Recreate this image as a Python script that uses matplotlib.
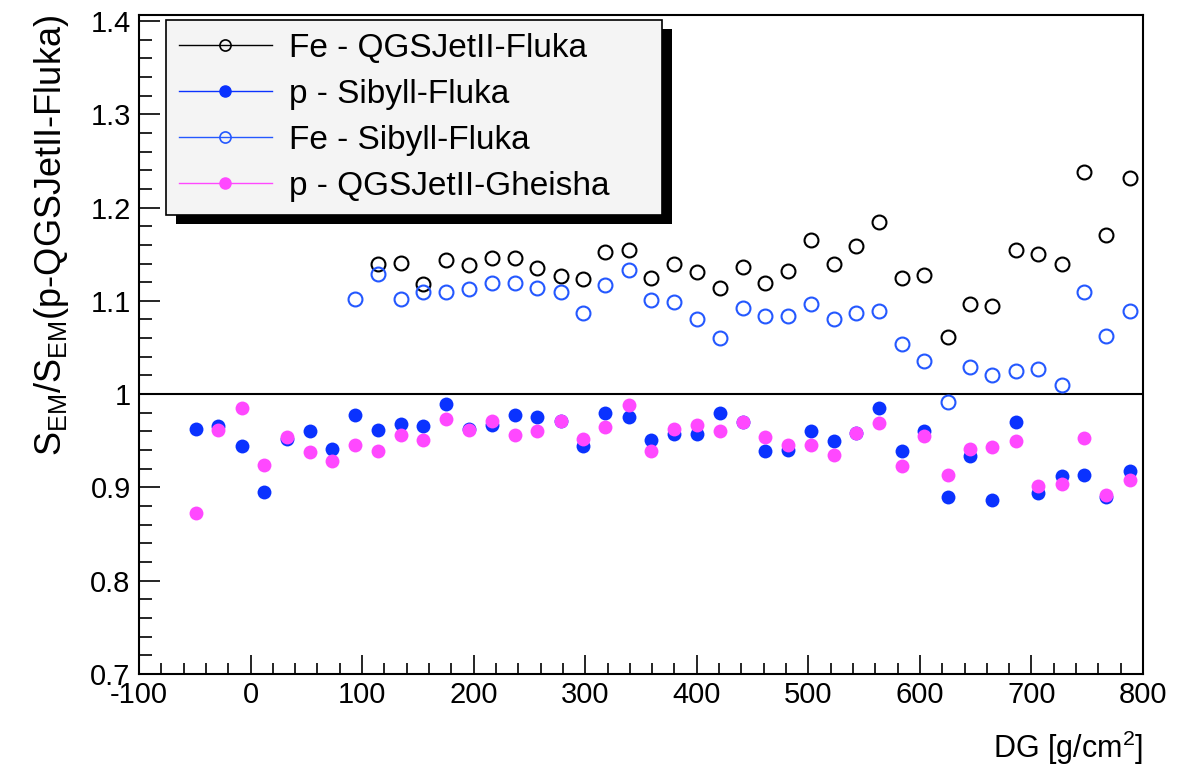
import matplotlib
matplotlib.use("Agg")
import matplotlib.pyplot as plt
from matplotlib.ticker import MultipleLocator, FormatStrFormatter
from matplotlib.lines import Line2D
from matplotlib.patches import Rectangle

plt.rcParams['font.family'] = ['Liberation Sans', 'DejaVu Sans']
plt.rcParams['mathtext.fontset'] = 'custom'
plt.rcParams['mathtext.rm'] = 'Liberation Sans'
plt.rcParams['mathtext.it'] = 'Liberation Sans:italic'
plt.rcParams['axes.unicode_minus'] = False

# DG bin centres [g/cm2]
dg = [-49, -29, -8, 12, 33, 53, 73, 94, 114, 135, 155, 175, 196, 216, 237, 257,
      278, 298, 318, 339, 359, 380, 400, 421, 441, 461, 482, 502, 523, 543, 563,
      584, 604, 625, 645, 665, 686, 706, 727, 747, 767, 788]

# p - Sibyll-Fluka (all bins)
p_sib = [0.963, 0.966, 0.944, 0.895, 0.952, 0.960, 0.941, 0.978, 0.962, 0.968,
         0.966, 0.989, 0.963, 0.967, 0.978, 0.975, 0.971, 0.944, 0.980, 0.975,
         0.951, 0.957, 0.957, 0.980, 0.970, 0.939, 0.940, 0.961, 0.950, 0.958,
         0.985, 0.939, 0.961, 0.890, 0.934, 0.886, 0.970, 0.894, 0.912, 0.913,
         0.890, 0.918]

# p - QGSJetII-Gheisha (all bins)
p_gh = [0.873, 0.962, 0.985, 0.924, 0.954, 0.938, 0.928, 0.945, 0.939, 0.956,
        0.951, 0.973, 0.962, 0.971, 0.956, 0.960, 0.971, 0.952, 0.965, 0.988,
        0.939, 0.963, 0.967, 0.961, 0.970, 0.954, 0.946, 0.945, 0.935, 0.958,
        0.969, 0.923, 0.955, 0.913, 0.941, 0.943, 0.950, 0.901, 0.904, 0.953,
        0.892, 0.908]

# Fe - Sibyll-Fluka (from bin 7)
fe_sib = [1.102, 1.129, 1.102, 1.109, 1.110, 1.113, 1.119, 1.119, 1.114, 1.109,
          1.087, 1.117, 1.133, 1.101, 1.099, 1.081, 1.060, 1.092, 1.084, 1.084,
          1.097, 1.080, 1.087, 1.089, 1.054, 1.035, 0.992, 1.029, 1.021, 1.025,
          1.027, 1.010, 1.109, 1.062, 1.089]

# Fe - QGSJetII-Fluka (from bin 8)
fe_qgs = [1.140, 1.141, 1.118, 1.144, 1.138, 1.146, 1.146, 1.135, 1.127, 1.123,
          1.152, 1.154, 1.124, 1.139, 1.131, 1.114, 1.136, 1.119, 1.132, 1.165,
          1.139, 1.159, 1.185, 1.125, 1.128, 1.061, 1.097, 1.094, 1.154, 1.150,
          1.139, 1.238, 1.171, 1.232]

labels = ["Fe - QGSJetII-Fluka", "p - Sibyll-Fluka", "Fe - Sibyll-Fluka", "p - QGSJetII-Gheisha"]

blue = '#0a32ff'
blue_open = '#2458ff'
magenta = '#ff48ff'

fig = plt.figure(figsize=(11.95, 7.67), dpi=100)
ax = fig.add_axes([139/1195, 93/767, 1004/1195, 659/767])

ax.axhline(1.0, color='black', lw=1.5, zorder=1)

ax.plot(dg[8:], fe_qgs, 'o', ms=10, mfc='none', mec='black', mew=1.5, zorder=3)
ax.plot(dg[7:], fe_sib, 'o', ms=10, mfc='none', mec=blue_open, mew=1.5, zorder=3)
ax.plot(dg, p_sib, 'o', ms=10, color=blue, mec='none', zorder=3)
ax.plot(dg, p_gh, 'o', ms=10, color=magenta, mec='none', zorder=4)

ax.set_xlim(-100, 800)
ax.set_ylim(0.7, 1.4064)

ax.xaxis.set_major_locator(MultipleLocator(100))
ax.xaxis.set_minor_locator(MultipleLocator(20))
ax.yaxis.set_major_locator(MultipleLocator(0.1))
ax.yaxis.set_minor_locator(MultipleLocator(0.02))
ax.yaxis.set_major_formatter(FormatStrFormatter('%g'))

ax.tick_params(which='both', direction='in', top=False, right=False,
               labelsize=21, width=1.2, color='black')
ax.tick_params(axis='y', which='major', length=15, pad=6)
ax.tick_params(axis='y', which='minor', length=9)
ax.tick_params(axis='x', which='major', length=14, pad=5)
ax.tick_params(axis='x', which='minor', length=8)
for s in ax.spines.values():
    s.set_linewidth(1.5)

ax.set_xlabel('DG [g/cm$^{2}$]', fontsize=22, loc='right', labelpad=14)
ax.set_ylabel(r'S$_{\mathrm{EM}}$/S$_{\mathrm{EM}}$(p-QGSJetII-Fluka)', fontsize=26, loc='top')
ax.yaxis.set_label_coords(-0.068, 1.0)

handles = [
    Line2D([], [], color='black', lw=1, marker='o', ms=8, mfc='none', mec='black', mew=1.2),
    Line2D([], [], color=blue, lw=1, marker='o', ms=8, mfc=blue, mec=blue),
    Line2D([], [], color=blue_open, lw=1, marker='o', ms=8, mfc='none', mec=blue_open, mew=1.2),
    Line2D([], [], color=magenta, lw=1, marker='o', ms=8, mfc=magenta, mec=magenta),
]
leg = ax.legend(handles, labels, loc='upper left',
                bbox_to_anchor=(0.027, 0.705, 0.494, 0.287), mode='expand',
                fontsize=24, frameon=True, fancybox=False, framealpha=1,
                edgecolor='black', facecolor='#f4f4f4', handlelength=2.8,
                handletextpad=0.5, labelspacing=0.45, borderpad=0.38,
                borderaxespad=0)
leg.get_frame().set_linewidth(1.2)
leg.set_zorder(10)

# ROOT-style black drop shadow behind the legend
fig.canvas.draw()
bb = leg.get_window_extent().transformed(fig.transFigure.inverted())
shadow = Rectangle((bb.x0 + 10/1195, bb.y0 - 9/767), bb.width, bb.height,
                   transform=fig.transFigure, facecolor='black', edgecolor='none',
                   zorder=9)
ax.add_artist(shadow)
shadow.set_clip_on(False)

fig.savefig('out.png', dpi=100)
